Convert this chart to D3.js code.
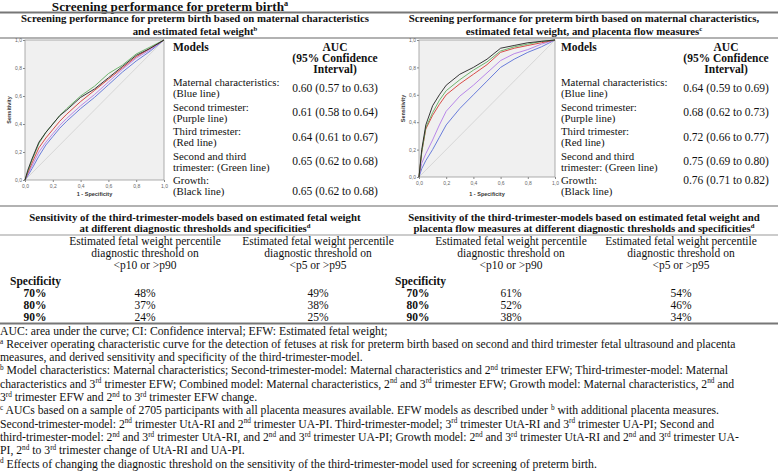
<!DOCTYPE html>
<html>
<script src="https://d3js.org/d3.v7.min.js"></script>
<style>
    body {
        margin: 0;
        background: #fff;
    }

    svg text {
        white-space: pre;
    }

    .serif {
        font-family: "Liberation Serif", "Times New Roman", serif;
        fill: #111;
    }

    .roc text {
        font-family: "Liberation Sans", Arial, sans-serif;
    }

    .roc .domain {
        display: none;
    }

    .roc .tick line {
        stroke: #888;
    }

    .roc .tick text {
        font-size: 5px;
        fill: #666;
    }
</style>

<body></body>
<script>
    // ---- data ----
    const modelLine1 = ["Maternal characteristics:", "Second trimester:", "Third trimester:", "Second and third", "Growth:"];
    const modelLine2 = ["(Blue line)", "(Purple line)", "(Red line)", "trimester: (Green line)", "(Black line)"];
    const aucLeft = ["0.60 (0.57 to 0.63)", "0.61 (0.58 to 0.64)", "0.64 (0.61 to 0.67)", "0.65 (0.62 to 0.68)", "0.65 (0.62 to 0.68)"];
    const aucRight = ["0.64 (0.59 to 0.69)", "0.68 (0.62 to 0.73)", "0.72 (0.66 to 0.77)", "0.75 (0.69 to 0.80)", "0.76 (0.71 to 0.82)"];

    const rocTicks = [0, 0.2, 0.4, 0.6, 0.8, 1];

    // ROC curves, left panel (maternal characteristics + EFW)
    const fprLeft = [0, 0.02, 0.05, 0.1, 0.15, 0.2, 0.25, 0.3, 0.4, 0.5, 0.6, 0.7, 0.8, 0.9, 1];
    const leftBlue = [0, 0.03, 0.08, 0.17, 0.25, 0.31, 0.37, 0.42, 0.51, 0.59, 0.68, 0.77, 0.85, 0.92, 1];
    const leftPurple = [0, 0.04, 0.10, 0.20, 0.27, 0.33, 0.39, 0.44, 0.53, 0.61, 0.70, 0.79, 0.87, 0.93, 1];
    const leftRed = [0, 0.05, 0.12, 0.23, 0.30, 0.36, 0.42, 0.47, 0.56, 0.64, 0.72, 0.80, 0.88, 0.94, 1];
    const leftGreen = [0, 0.06, 0.14, 0.26, 0.34, 0.40, 0.46, 0.51, 0.60, 0.67, 0.76, 0.82, 0.90, 0.95, 1];
    const leftBlack = [0, 0.07, 0.15, 0.27, 0.34, 0.40, 0.46, 0.50, 0.59, 0.65, 0.73, 0.81, 0.89, 0.94, 1];

    // ROC curves, right panel (+ placenta flow measures)
    const fprRight = [0, 0.02, 0.05, 0.1, 0.15, 0.2, 0.3, 0.4, 0.5, 0.6, 0.7, 0.8, 0.9, 1];
    const rightBlue = [0, 0.06, 0.12, 0.20, 0.29, 0.38, 0.50, 0.60, 0.70, 0.80, 0.86, 0.91, 0.95, 1];
    const rightPurple = [0, 0.10, 0.17, 0.27, 0.38, 0.48, 0.59, 0.67, 0.76, 0.85, 0.90, 0.93, 0.97, 1];
    const rightRed = [0, 0.18, 0.35, 0.45, 0.53, 0.60, 0.68, 0.75, 0.82, 0.91, 0.94, 0.96, 0.98, 1];
    const rightGreen = [0, 0.18, 0.36, 0.47, 0.56, 0.63, 0.71, 0.78, 0.84, 0.92, 0.95, 0.97, 0.99, 1];
    const rightBlack = [0, 0.20, 0.38, 0.52, 0.60, 0.67, 0.75, 0.80, 0.86, 0.94, 0.96, 0.98, 0.99, 1];

    // sensitivity tables
    const specLevels = ["70%", "80%", "90%"];
    const sensLeftP10 = ["48%", "37%", "24%"];
    const sensLeftP5 = ["49%", "38%", "25%"];
    const sensRightP10 = ["61%", "52%", "38%"];
    const sensRightP5 = ["54%", "46%", "34%"];
    const thresholdHead = ["Estimated fetal weight percentile", "diagnostic threshold on"];
    const thresholdCols = ["<p10 or >p90", "<p5 or >p95"];

    const footnotes = [
        "AUC: area under the curve; CI: Confidence interval; EFW: Estimated fetal weight;",
        "^{a} Receiver operating characteristic curve for the detection of fetuses at risk for preterm birth based on second and third trimester fetal ultrasound and placenta",
        "measures, and derived sensitivity and specificity of the third-trimester-model.",
        "^{b} Model characteristics: Maternal characteristics; Second-trimester-model: Maternal characteristics and 2^{nd} trimester EFW; Third-trimester-model: Maternal",
        "characteristics and 3^{rd} trimester EFW; Combined model: Maternal characteristics, 2^{nd} and 3^{rd} trimester EFW; Growth model: Maternal characteristics, 2^{nd} and",
        "3^{rd} trimester EFW and 2^{nd} to 3^{rd} trimester EFW change.",
        "^{c} AUCs based on a sample of 2705 participants with all placenta measures available. EFW models as described under ^{b} with additional placenta measures.",
        "Second-trimester-model: 2^{nd} trimester UtA-RI and 2^{nd} trimester UA-PI. Third-trimester-model; 3^{rd} trimester UtA-RI and 3^{rd} trimester UA-PI; Second and",
        "third-trimester-model: 2^{nd} and 3^{rd} trimester UtA-RI, and 2^{nd} and 3^{rd} trimester UA-PI; Growth model: 2^{nd} and 3^{rd} trimester UtA-RI and 2^{nd} and 3^{rd} trimester UA-",
        "PI, 2^{nd} to 3^{rd} trimester change of UtA-RI and UA-PI.",
        "^{d} Effects of changing the diagnostic threshold on the sensitivity of the third-trimester-model used for screening of preterm birth."
    ];

    const lineColors = { blue: "#5a6fd8", purple: "#b27ae8", red: "#d63a36", green: "#5fae5f", black: "#222" };

    // ---- drawing ----
    const width = 778,
        height = 474;
    const svg = d3.select("body").append("svg").attr("width", width).attr("height", height);

    // text with ^{sup} markup, superscripts raised with dy
    function rich(sel, str, size) {
        const up = size * 0.36;
        let raised = false;
        str.split(/(\^\{[^}]*\})/).forEach(p => {
            if (!p) return;
            const m = p.match(/^\^\{([^}]*)\}$/);
            if (m) {
                sel.append("tspan").attr("dy", raised ? 0 : -up).attr("font-size", size * 0.62).text(m[1]);
                raised = true;
            } else {
                sel.append("tspan").attr("dy", raised ? up : 0).text(p);
                raised = false;
            }
        });
        return sel;
    }

    function txt(x, y, str, size, opts = {}) {
        const t = svg.append("text").attr("class", "serif")
            .attr("x", x).attr("y", y)
            .attr("font-size", size)
            .attr("font-weight", opts.bold ? "bold" : null)
            .attr("text-anchor", opts.anchor || "start");
        return rich(t, str, size);
    }

    function rule(y, w, color) {
        svg.append("line").attr("x1", 0).attr("x2", width).attr("y1", y).attr("y2", y)
            .attr("stroke", color).attr("stroke-width", w);
    }

    // title and rules
    txt(170, 10.5, "Screening performance for preterm birth^{a}", 13.2, { bold: true, anchor: "middle" });
    rule(12.5, 2, "#777");
    txt(195, 22, "Screening performance for preterm birth based on maternal characteristics", 10.8, { bold: true, anchor: "middle" });
    txt(195, 35, "and estimated fetal weight^{b}", 10.8, { bold: true, anchor: "middle" });
    txt(584, 22, "Screening performance for preterm birth based on maternal characteristics,", 10.8, { bold: true, anchor: "middle" });
    txt(584, 35, "estimated fetal weight, and placenta flow measures^{c}", 10.8, { bold: true, anchor: "middle" });
    rule(38, 1.5, "#999");

    function rocPanel(box, fpr, curves) {
        const g = svg.append("g").attr("class", "roc");
        const x = d3.scaleLinear().domain([0, 1]).range([box.x0, box.x1]);
        const y = d3.scaleLinear().domain([0, 1]).range([box.y1, box.y0]);
        const fmt = d => d3.format(".1f")(d).replace(".", ",");

        g.append("rect").attr("x", box.x0).attr("y", box.y0)
            .attr("width", box.x1 - box.x0).attr("height", box.y1 - box.y0)
            .attr("fill", "#f0f0f0").attr("stroke", "#999").attr("stroke-width", 0.8);

        g.append("g").attr("transform", `translate(${box.x0},0)`)
            .call(d3.axisLeft(y).tickValues(rocTicks).tickSize(2).tickPadding(1).tickFormat(fmt));
        g.append("g").attr("transform", `translate(0,${box.y1})`)
            .call(d3.axisBottom(x).tickValues(rocTicks).tickSize(2).tickPadding(2).tickFormat(fmt));

        g.append("line")
            .attr("x1", x(0)).attr("y1", y(0)).attr("x2", x(1)).attr("y2", y(1))
            .attr("stroke", "#cfcfcf").attr("stroke-width", 0.8);

        const line = d3.line().x(d => x(d[0])).y(d => y(d[1]));
        curves.forEach(c => {
            g.append("path")
                .attr("d", line(fpr.map((f, i) => [f, c.tpr[i]])))
                .attr("fill", "none")
                .attr("stroke", lineColors[c.color])
                .attr("stroke-width", 0.9);
        });

        g.append("text")
            .attr("transform", `translate(${box.x0 - 14},${(box.y0 + box.y1) / 2}) rotate(-90)`)
            .attr("text-anchor", "middle").attr("font-size", 5.5).attr("font-weight", "bold").attr("fill", "#333")
            .text("Sensitivity");
        g.append("text")
            .attr("x", (box.x0 + box.x1) / 2).attr("y", 196)
            .attr("text-anchor", "middle").attr("font-size", 5.5).attr("font-weight", "bold").attr("fill", "#333")
            .text("1 - Specificity");
    }

    function modelsColumn(xLabel, xAuc, auc, aucDy) {
        txt(xLabel, 51, "Models", 11.5, { bold: true });
        txt(xAuc, 51, "AUC", 11.5, { bold: true, anchor: "middle" });
        txt(xAuc, 62, "(95% Confidence", 11.5, { bold: true, anchor: "middle" });
        txt(xAuc, 73, "Interval)", 11.5, { bold: true, anchor: "middle" });
        modelLine1.forEach((m, i) => {
            const yc = 82 + i * 24.5;
            txt(xLabel, yc + 4, m, 10.8);
            txt(xLabel, yc + 15, modelLine2[i], 10.8);
            txt(xAuc, yc + aucDy[i] + 4, auc[i], 11.5, { anchor: "middle" });
        });
    }

    rocPanel({ x0: 25, x1: 164, y0: 40, y1: 180 }, fprLeft, [
        { color: "blue", tpr: leftBlue },
        { color: "purple", tpr: leftPurple },
        { color: "red", tpr: leftRed },
        { color: "green", tpr: leftGreen },
        { color: "black", tpr: leftBlack }
    ]);
    rocPanel({ x0: 419, x1: 555, y0: 40, y1: 177 }, fprRight, [
        { color: "blue", tpr: rightBlue },
        { color: "purple", tpr: rightPurple },
        { color: "red", tpr: rightRed },
        { color: "green", tpr: rightGreen },
        { color: "black", tpr: rightBlack }
    ]);
    modelsColumn(173, 335, aucLeft, [5.5, 5.5, 5.5, 5.5, 10.5]);
    modelsColumn(561, 726, aucRight, [5.5, 5.5, 5.5, 5.5, 0]);

    rule(206, 1.5, "#999");

    // sensitivity tables
    txt(195, 221, "Sensitivity of the third-trimester-models based on estimated fetal weight", 10.8, { bold: true, anchor: "middle" });
    txt(195, 232, "at different diagnostic thresholds and specificities^{d}", 10.8, { bold: true, anchor: "middle" });
    txt(584, 221, "Sensitivity of the third-trimester-models based on estimated fetal weight and", 10.8, { bold: true, anchor: "middle" });
    txt(584, 232, "placenta flow measures at different diagnostic thresholds and specificities^{d}", 10.8, { bold: true, anchor: "middle" });
    rule(235, 1.2, "#999");

    function sensTable(xSpec, xPct, cols) {
        cols.forEach(c => {
            txt(c.x, 245, thresholdHead[0], 11.5, { anchor: "middle" });
            txt(c.x, 257, thresholdHead[1], 11.5, { anchor: "middle" });
            txt(c.x, 269, c.head, 11.5, { anchor: "middle" });
            c.vals.forEach((v, i) => txt(c.x, 297 + i * 12.2, v, 11.5, { anchor: "middle" }));
        });
        txt(xSpec, 285, "Specificity", 11.5, { bold: true });
        specLevels.forEach((s, i) => txt(xPct, 297 + i * 12.2, s, 11.5, { bold: true, anchor: "middle" }));
    }
    sensTable(10, 35, [
        { x: 145, head: thresholdCols[0], vals: sensLeftP10 },
        { x: 318, head: thresholdCols[1], vals: sensLeftP5 }
    ]);
    sensTable(395, 418, [
        { x: 511, head: thresholdCols[0], vals: sensRightP10 },
        { x: 681, head: thresholdCols[1], vals: sensRightP5 }
    ]);
    rule(323.5, 1.8, "#777");

    footnotes.forEach((f, i) => txt(0, 334.5 + i * 13.3, f, 11.7));
</script>

</html>
